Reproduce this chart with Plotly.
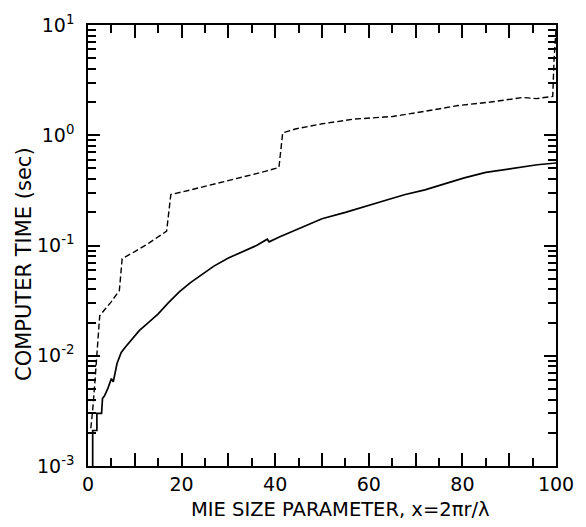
import plotly.graph_objects as go

# Solid curve (lower)
x_solid = [1.0, 1.0, 1.9, 1.9, 2.9, 3.1, 3.5, 4.2, 5.0, 5.4, 6.2, 7.1, 8.0, 9.4, 11, 12.9, 15, 17.1,
           19.5, 21.9, 24.5, 26.9, 30, 33.2, 36, 38.3, 38.7, 41, 45.9, 50, 55, 60.3, 64, 67.8, 72, 76,
           80.4, 85, 88, 92.9, 96, 100]
y_solid = [0.0008, 0.0021, 0.0021, 0.0030, 0.0030, 0.0041, 0.0043, 0.0050, 0.0062, 0.0058, 0.0085,
           0.0107, 0.012, 0.014, 0.017, 0.020, 0.024, 0.030, 0.038, 0.046, 0.055, 0.065, 0.077, 0.089,
           0.10, 0.114, 0.108, 0.12, 0.148, 0.175, 0.20, 0.235, 0.26, 0.29, 0.32, 0.36, 0.41, 0.46,
           0.48, 0.51, 0.54, 0.56]

# Dashed curve (upper)
x_dash = [0.6, 1.0, 1.5, 1.9, 2.2, 2.5, 3.5, 5.0, 6.7, 7.0, 7.3, 10, 13, 16.8, 17.2, 17.7, 22, 27, 32,
          37, 40.8, 41.2, 41.6, 44.3, 50, 56.8, 65.1, 72, 79.1, 86, 92.9, 95.8, 99.3, 99.6, 100]
y_dash = [0.0022, 0.0032, 0.006, 0.0102, 0.014, 0.023, 0.026, 0.031, 0.039, 0.06, 0.076, 0.088, 0.105,
          0.135, 0.20, 0.29, 0.32, 0.36, 0.41, 0.46, 0.51, 0.75, 1.05, 1.14, 1.27, 1.40, 1.48, 1.65,
          1.86, 2.0, 2.2, 2.15, 2.25, 5, 9]

y_major = [0.001, 0.01, 0.1, 1, 10]
y_major_text = ["10<sup>-3</sup>", "10<sup>-2</sup>", "10<sup>-1</sup>", "10<sup>0</sup>", "10<sup>1</sup>"]
y_minor = [m * 10.0 ** e for e in range(-3, 1) for m in range(2, 10)]
x_title = "MIE SIZE PARAMETER, x=2πr/λ"
y_title = "COMPUTER TIME (sec)"

fig = go.Figure()
fig.add_trace(go.Scatter(x=x_dash, y=y_dash, mode="lines",
                         line=dict(color="black", width=1.4, dash="6px,3px")))
fig.add_trace(go.Scatter(x=x_solid, y=y_solid, mode="lines",
                         line=dict(color="black", width=1.7)))

family = "DejaVu Sans, Verdana, sans-serif"
tick_font = dict(family=family, size=19, color="black")
fig.update_layout(
    width=586, height=527,
    margin=dict(l=88, r=19, t=17, b=61),
    paper_bgcolor="white", plot_bgcolor="white",
    showlegend=False,
    xaxis=dict(range=[0, 100], tickmode="linear", tick0=0, dtick=10, ticklabelstep=2,
               ticks="inside", ticklen=13, tickwidth=2, tickcolor="black",
               showline=True, linecolor="black", linewidth=1.5, mirror="ticks",
               showgrid=False, zeroline=False,
               minor=dict(tickmode="linear", tick0=5, dtick=10, ticks="inside", ticklen=8,
                          tickwidth=2, tickcolor="black", showgrid=False),
               tickfont=tick_font),
    yaxis=dict(type="log", range=[-3, 1], tickmode="array", tickvals=y_major, ticktext=y_major_text,
               ticks="inside", ticklen=12, tickwidth=2, tickcolor="black",
               showline=True, linecolor="black", linewidth=1.5, mirror="ticks",
               showgrid=False, zeroline=False, ticklabelstandoff=8,
               minor=dict(tickmode="array", tickvals=y_minor, ticks="inside", ticklen=8,
                          tickwidth=2, tickcolor="black", showgrid=False),
               tickfont=tick_font),
    annotations=[
        dict(text=x_title, xref="paper", yref="paper", x=0.539, y=-0.098,
             xanchor="center", yanchor="middle", showarrow=False,
             font=dict(family=family, size=19.5, color="black")),
        dict(text=y_title, xref="paper", yref="paper", x=-0.138, y=0.459, textangle=-90,
             xanchor="center", yanchor="middle", showarrow=False,
             font=dict(family=family, size=21, color="black")),
    ],
)

fig.write_html("out.html")
